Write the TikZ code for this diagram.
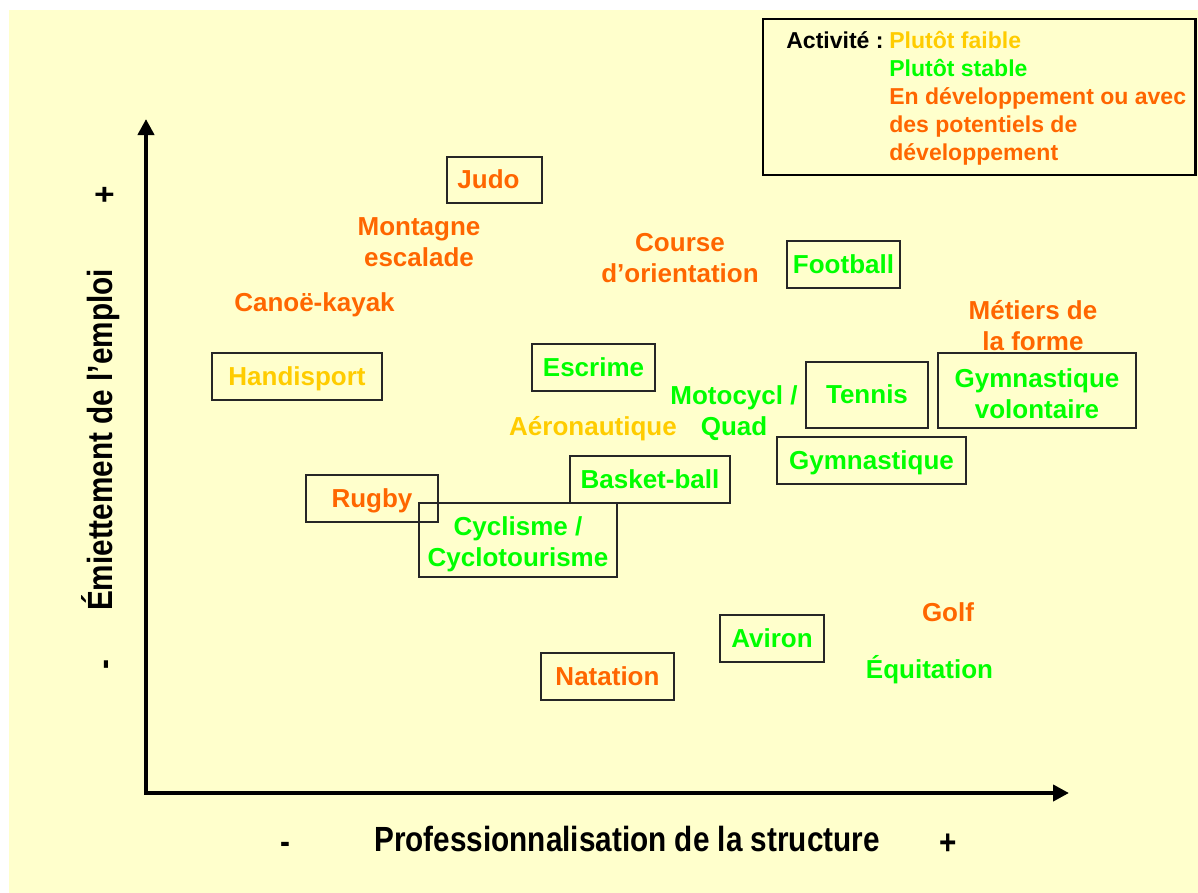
\documentclass[tikz,border=0pt]{standalone}
\usepackage{fontspec}
\setmainfont{Liberation Sans}
\newfontfamily\narrowfont{Liberation Sans}[FakeStretch=0.85]
\usetikzlibrary{arrows.meta,positioning}
\definecolor{fond}{HTML}{FFFFCC}
\definecolor{faible}{HTML}{FFCC00}
\definecolor{stable}{HTML}{00FF00}
\definecolor{devel}{HTML}{FF6600}
\tikzset{
	sport/.style={font=\fontsize{14.8}{17.6}\selectfont\bfseries,align=center,inner sep=0pt},
	un/.style={sport,text height=1.2em,text depth=0.2em},
	boite/.style={draw=black!85,line width=0.8pt},
	legende/.style={font=\fontsize{13.1}{15.9}\selectfont\bfseries,anchor=mid west,inner sep=0pt},
	titre/.style={font=\fontsize{19.9}{24}\selectfont\narrowfont\bfseries,inner sep=0pt,text height=0.75em,text depth=0.2em},
	axe/.style={line width=2.3pt,{Triangle[length=0.32cm,width=0.32cm]}-{Triangle[length=0.32cm,width=0.32cm]}}
}
\begin{document}
\begin{tikzpicture}[x=0.02cm,y=-0.02cm]
		\useasboundingbox (0,0) rectangle (1198,893);
		\fill[fond] (9,10) rectangle (1198,893);
		\coordinate (haut) at (146,119);
		\coordinate (o) at (146,793);
		\coordinate (droite) at (1069,793);
		\draw[axe] (haut) -- (o) -- (droite);
		\node[titre,rotate=90] (yplus) at (112,195) {+};
		\node[titre,rotate=90] (ylabel) at (108,440) {Émiettement de l’emploi};
		\node[titre,rotate=90] (ymoins) at (111,665) {-};
		\node[titre] (xmoins) at (285,849) {-};
		\node[titre] (xlabel) at (627,847) {Professionnalisation de la structure};
		\node[titre] (xplus) at (948,850) {+};
		\draw[line width=1.7pt] (763,19) rectangle (1195.5,175);
		\node[legende] (activite) at (786,44) {Activité :};
		\node[legende,text=faible] (leg1) at (889,44) {Plutôt faible};
		\node[legende,text=stable] (leg2) at (889,72) {Plutôt stable};
		\node[legende,text=devel] (leg3) at (889,100) {En développement ou avec};
		\node[legende,text=devel] (leg4) at (889,128) {des potentiels de};
		\node[legende,text=devel] (leg5) at (889,156) {développement};
		\node[un,boite,text=devel,minimum width=1.9cm,minimum height=0.92cm] (judo) at (494.5,180) {Judo\hspace*{0.24cm}};
		\node[sport,text=devel] (montagne) at (419,242) {Montagne\\escalade};
		\node[sport,text=devel] (course) at (680,258) {Course\\d’orientation};
		\node[un,boite,text=stable,minimum width=2.26cm,minimum height=0.94cm] (football) at (843.5,264.5) {Football};
		\node[un,text=devel] (canoe) at (314.5,303) {Canoë-kayak};
		\node[sport,text=devel] (metiers) at (1033,326) {Métiers de\\la forme};
		\node[un,boite,text=faible,minimum width=3.4cm,minimum height=0.94cm] (handisport) at (297,376.5) {Handisport};
		\node[un,boite,text=stable,minimum width=2.46cm,minimum height=0.94cm] (escrime) at (593.5,367.5) {Escrime};
		\node[sport,text=stable] (moto) at (734,413) {Motocycl /\\Quad};
		\node[un,boite,text=stable,minimum width=2.44cm,minimum height=1.32cm] (tennis) at (867,395) {Tennis};
		\node[sport,boite,text=stable,minimum width=3.96cm,minimum height=1.5cm] (gymvol) at (1037,390.5) {\rule{0pt}{0.5cm}Gymnastique\\volontaire};
		\node[un,text=faible] (aero) at (593,427) {Aéronautique};
		\node[un,boite,text=stable,minimum width=3.78cm,minimum height=0.94cm] (gym) at (871.5,460.5) {Gymnastique};
		\node[un,boite,text=stable,minimum width=3.2cm,minimum height=0.94cm] (basket) at (650,479.5) {Basket-ball};
		\node[un,boite,text=devel,minimum width=2.64cm,minimum height=0.94cm] (rugby) at (372,498.5) {Rugby};
		\node[sport,boite,text=stable,minimum width=3.96cm,minimum height=1.48cm] (cyclisme) at (518,540) {\rule{0pt}{0.56cm}Cyclisme /\\Cyclotourisme};
		\node[un,text=devel] (golf) at (948,613) {Golf};
		\node[un,boite,text=stable,minimum width=2.08cm,minimum height=0.94cm] (aviron) at (772,638.5) {Aviron};
		\node[un,text=stable] (equitation) at (929.5,670) {Équitation};
		\node[un,boite,text=devel,minimum width=2.66cm,minimum height=0.94cm] (natation) at (607.5,676.5) {Natation};
\end{tikzpicture}
\end{document}
